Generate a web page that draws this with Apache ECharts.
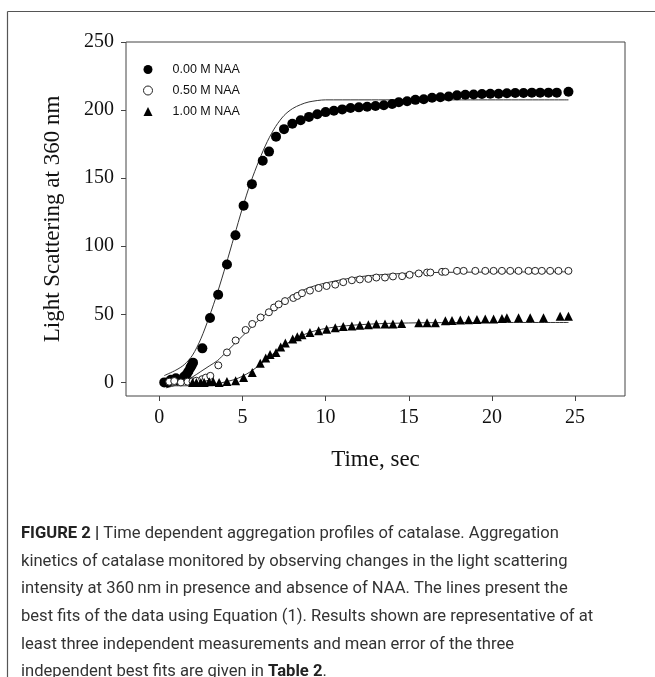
<!DOCTYPE html>
<html>
<head>
<meta charset="utf-8">
<script src="https://cdn.jsdelivr.net/npm/echarts@6/dist/echarts.min.js"></script>
<style>
* { margin: 0; padding: 0; }
html, body { background: #fff; }
#chart { width: 655px; height: 677px; }
</style>
</head>
<body>
<div id="chart"></div>
<script>
// 0.00 M NAA (filled circles)
var timeA = [0.3, 0.5, 0.7, 1.0, 1.2, 1.5, 1.65, 1.75, 1.87, 1.95, 2.03, 2.59, 3.05, 3.54, 4.07, 4.58, 5.07, 5.57, 6.22, 6.6, 7.02, 7.5, 8.0, 8.5, 9.0, 9.5, 10.0, 10.5, 11.0, 11.5, 12.0, 12.5, 13.0, 13.5, 14.0, 14.4, 14.9, 15.4, 15.9, 16.4, 16.9, 17.4, 17.9, 18.4, 18.9, 19.4, 19.9, 20.4, 20.9, 21.4, 21.9, 22.4, 22.9, 23.4, 23.9, 24.6];
var valA = [0, 0, 2, 3, 1, 4.3, 6, 8, 10.8, 12.5, 14.5, 25, 47.3, 64.3, 86.6, 108, 129.8, 145.6, 162.8, 169.5, 180.5, 186, 190, 192.5, 195, 197, 198.5, 199.5, 200.5, 201.5, 202, 202.5, 203, 203.5, 204.5, 205.8, 206.5, 207.5, 208, 209, 209.4, 210, 210.8, 211.2, 211.5, 211.8, 212, 212, 212.3, 212.5, 212.5, 212.8, 212.8, 212.8, 212.8, 213.5];
// 0.50 M NAA (open circles)
var timeB = [0.6, 0.9, 1.3, 1.7, 2.0, 2.23, 2.59, 2.8, 3.07, 3.55, 4.07, 4.59, 5.19, 5.59, 6.09, 6.59, 6.9, 7.18, 7.56, 8.06, 8.3, 8.58, 9.06, 9.58, 10.06, 10.58, 11.06, 11.58, 12.06, 12.57, 13.05, 13.57, 14.05, 14.6, 15.05, 15.6, 16.1, 16.3, 17.0, 17.2, 17.9, 18.3, 19.0, 19.6, 20.1, 20.6, 21.1, 21.6, 22.2, 22.6, 23.0, 23.5, 24.0, 24.6];
var valB = [0.5, 1, 0, 0.5, 0.8, 1.2, 2.4, 3.5, 4.8, 12.5, 22, 30.8, 38.5, 42.9, 47.7, 51.5, 55, 57.3, 59.7, 62, 63.5, 65.5, 67.4, 69.3, 70.8, 71.8, 73.6, 75, 75.6, 76, 77, 77, 77.8, 78, 79, 80, 80.7, 80.7, 81.2, 81.2, 81.9, 81.9, 81.9, 81.9, 81.9, 81.9, 81.9, 81.9, 81.9, 81.9, 81.9, 81.9, 81.9, 81.9];
// 1.00 M NAA (triangles)
var timeC = [2.0, 2.23, 2.5, 2.7, 3.0, 3.24, 3.6, 4.07, 4.59, 5.07, 5.59, 6.07, 6.4, 6.66, 7.02, 7.3, 7.58, 8.02, 8.3, 8.58, 9.06, 9.58, 10.06, 10.58, 11.06, 11.58, 12.06, 12.57, 13.05, 13.57, 14.05, 14.57, 15.6, 16.1, 16.6, 17.2, 17.6, 18.1, 18.6, 19.1, 19.6, 20.1, 20.6, 20.9, 21.6, 22.3, 23.1, 24.1, 24.6];
var valC = [0, 0, 0, 0, 0.5, 0.7, 0, 0.7, 1.2, 3.6, 7.2, 14, 18, 20.5, 22, 26, 28.9, 31.8, 33.5, 34.9, 36.6, 38, 39, 40.1, 41, 41.5, 41.9, 42.4, 42.9, 42.9, 42.9, 43.2, 43.8, 43.8, 43.8, 45.2, 45.5, 45.8, 46, 46.2, 46.5, 46.6, 46.9, 47.5, 47.5, 47.5, 47.5, 48.5, 48.5];

// fitted curves
var fitTimeA = [0.3, 1, 1.5, 2, 2.5, 3, 3.5, 4, 4.5, 5, 5.5, 6, 6.5, 7, 7.5, 8, 8.5, 9, 10, 12, 24.6];
var fitValA = [5, 9, 13, 20, 32, 48, 66, 86, 107, 128, 147, 163, 177, 188, 196, 201, 204, 206, 207.5, 207.5, 207.5];
var fitTimeB = [0.4, 1, 1.5, 2, 2.5, 3, 3.5, 4, 4.5, 5, 5.5, 6, 6.5, 7, 7.5, 8, 8.5, 9, 9.5, 10, 11, 12, 13, 14, 15, 17, 20, 24.6];
var fitValB = [-4, -2, 1, 4, 8, 12, 16, 22, 28, 34, 40, 46, 51, 56, 60, 64, 67, 69.5, 71.5, 73, 75.5, 77.5, 78.8, 79.6, 80.2, 80.8, 81, 81.2];
var fitTimeC = [0.3, 1.5, 2.5, 3.5, 4, 4.5, 5, 5.5, 6, 6.5, 7, 7.5, 8, 8.5, 9, 9.5, 10, 11, 12, 13, 14, 16, 20, 24.6];
var fitValC = [-2.5, -2.5, -2, -1, 0.5, 2, 4.5, 8, 12.5, 17.5, 22.5, 27, 31, 34, 36.5, 38.3, 39.6, 41.3, 42.3, 43, 43.4, 43.8, 44, 44];

var xTicks = [0, 5, 10, 15, 20, 25];
var yTicks = [0, 50, 100, 150, 200, 250];

var legendNames = ['0.00 M NAA', '0.50 M NAA', '1.00 M NAA'];
var legendIcons = ['circle', 'circle', 'triangle'];

var captionLines = [
  '{b|FIGURE 2 |} Time dependent aggregation profiles of catalase. Aggregation',
  'kinetics of catalase monitored by observing changes in the light scattering',
  'intensity at 360\u2009nm in presence and absence of NAA. The lines present the',
  'best fits of the data using Equation (1). Results shown are representative of at',
  'least three independent measurements and mean error of the three',
  'independent best fits are given in {b|Table 2}.'
];

function zip(t, v) {
  return t.map(function (x, i) { return [x, v[i]]; });
}

var serif = '"Liberation Serif", "Times New Roman", serif';
var sans = '"Liberation Sans", Arial, sans-serif';

var captionTexts = captionLines.map(function (line, i) {
  return {
    type: 'text',
    x: 0,
    y: 534 + i * 27.6,
    style: {
      text: line,
      fontFamily: 'Roboto, sans-serif',
      fontSize: 16.6,
      fill: '#333',
      verticalAlign: 'middle',
      rich: {
        b: { fontWeight: 'bold', fontFamily: 'Roboto, sans-serif', fontSize: 16.6, fill: '#222' }
      }
    }
  };
});

var chart = echarts.init(document.getElementById('chart'));
chart.setOption({
  animation: false,
  backgroundColor: '#fff',
  grid: {
    left: 126, top: 42, width: 499, height: 354,
    show: true, borderColor: '#444', borderWidth: 1
  },
  legend: {
    orient: 'vertical',
    left: 138, top: 58,
    itemWidth: 9, itemHeight: 9, itemGap: 8,
    itemStyle: { borderWidth: 1 },
    textStyle: { fontFamily: sans, fontSize: 12.5, color: '#111', padding: [0, 0, 0, 15] },
    data: legendNames.map(function (n, i) { return { name: n, icon: legendIcons[i] }; })
  },
  xAxis: {
    type: 'value', min: -2, max: 28,
    name: 'Time, sec', nameLocation: 'middle', nameGap: 52,
    nameTextStyle: { fontFamily: serif, fontSize: 23, color: '#111' },
    axisLine: { show: false, onZero: false },
    axisTick: { show: true, inside: false, length: 5, customValues: xTicks, lineStyle: { color: '#444' } },
    axisLabel: { customValues: xTicks, margin: 12, fontFamily: serif, fontSize: 20, color: '#111' },
    splitLine: { show: false }
  },
  yAxis: {
    type: 'value', min: -10, max: 250,
    name: 'Light Scattering at 360 nm', nameLocation: 'middle', nameGap: 62,
    nameTextStyle: { fontFamily: serif, fontSize: 23, color: '#111' },
    axisLine: { show: false, onZero: false },
    axisTick: { show: true, inside: false, length: 5, customValues: yTicks, lineStyle: { color: '#444' } },
    axisLabel: { customValues: yTicks, margin: 12, fontFamily: serif, fontSize: 20, color: '#111' },
    splitLine: { show: false }
  },
  series: [
    { name: 'fitA', type: 'line', data: zip(fitTimeA, fitValA), smooth: 0.3, showSymbol: false, silent: true,
      lineStyle: { color: '#333', width: 1 }, z: 1 },
    { name: 'fitB', type: 'line', data: zip(fitTimeB, fitValB), smooth: 0.3, showSymbol: false, silent: true,
      lineStyle: { color: '#333', width: 1 }, z: 1 },
    { name: 'fitC', type: 'line', data: zip(fitTimeC, fitValC), smooth: 0.3, showSymbol: false, silent: true,
      lineStyle: { color: '#333', width: 1 }, z: 1 },
    { name: legendNames[0], type: 'scatter', data: zip(timeA, valA), symbol: 'circle', symbolSize: 10,
      itemStyle: { color: '#000', opacity: 1 }, z: 3 },
    { name: legendNames[1], type: 'scatter', data: zip(timeB, valB), symbol: 'circle', symbolSize: 7,
      itemStyle: { color: '#fff', borderColor: '#222', borderWidth: 1, opacity: 1 }, z: 3 },
    { name: legendNames[2], type: 'scatter', data: zip(timeC, valC), symbol: 'triangle', symbolSize: 9,
      itemStyle: { color: '#000', opacity: 1 }, z: 3 }
  ],
  graphic: [
    { type: 'line', shape: { x1: 7.5, y1: 11.5, x2: 655, y2: 11.5 }, style: { stroke: '#555', lineWidth: 1.2 } },
    { type: 'line', shape: { x1: 7.5, y1: 11.5, x2: 7.5, y2: 677 }, style: { stroke: '#555', lineWidth: 1.2 } },
    { type: 'group', x: 21, y: 0, children: captionTexts }
  ]
});
</script>
</body>
</html>
